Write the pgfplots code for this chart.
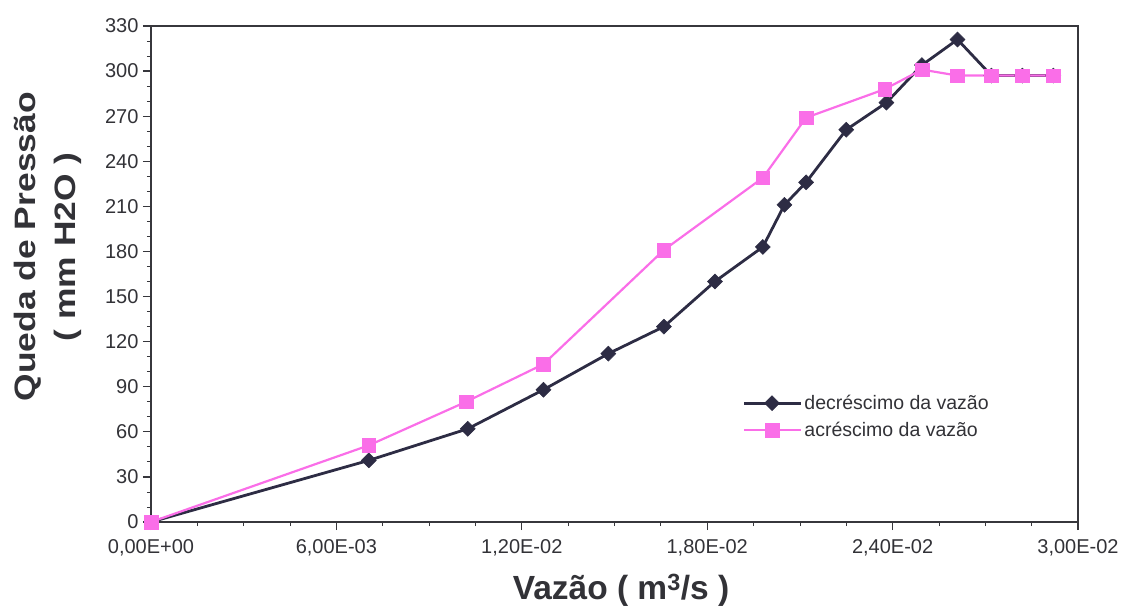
\documentclass[border=0pt]{standalone}
\usepackage{pgfplots}
\pgfplotsset{compat=1.18}
\usepackage{fontspec}
\setmainfont{Liberation Sans}
\newfontfamily\ylfont[FakeStretch=1.2]{Liberation Sans}
\definecolor{darkser}{RGB}{45,44,68}
\definecolor{pinkser}{RGB}{250,110,232}
\definecolor{axgray}{RGB}{55,55,60}
\definecolor{txt}{RGB}{50,50,55}
\begin{document}
\begin{tikzpicture}
\path[use as bounding box] (-151pt,-88pt) rectangle (972pt,522pt);
\begin{axis}[
  scale only axis,
  width=927pt, height=496pt,
  xmin=0, xmax=30, ymin=0, ymax=330,
  xtick={0,6,12,18,24,30},
  xticklabels={{0,00E+00},{6,00E-03},{1,20E-02},{1,80E-02},{2,40E-02},{3,00E-02}},
  ytick={0,30,...,330},
  minor x tick num=3,
  minor y tick num=2,
  tick pos=left,
  tick align=outside,
  major tick length=8pt,
  minor tick length=4pt,
  every tick/.style={axgray, line width=1.2pt},
  minor tick style={line width=0.8pt},
  axis line style={axgray, line width=1.8pt},
  /pgf/number format/assume math mode=true,
  tick label style={font=\fontsize{20}{22}\selectfont, text=txt},
  yticklabel style={xshift=-1pt},
  xticklabel style={yshift=-6pt},
  xlabel={Vazão ( m\textsuperscript{3}/s )},
  xlabel style={at={(rel axis cs:0.507,0)}, anchor=center, yshift=-68pt, font=\fontsize{33.5}{36}\selectfont\bfseries, text=txt},
  ylabel={Queda de Pressão\\( mm H2O )},
  ylabel style={at={(rel axis cs:-0.111,0.555)}, anchor=center, align=center, font=\ylfont\fontsize{29.5}{40}\selectfont\bfseries, text=txt},
  legend style={draw=none, fill=none, at={(rel axis cs:0.638,0.26)}, anchor=north west, font=\fontsize{19.5}{22}\selectfont, text=txt, row sep=7pt, inner sep=0pt},
  legend cell align=left,
  legend image code/.code={\draw[#1, mark repeat=2, mark phase=2] plot coordinates {(0pt,0pt) (28pt,0pt) (57pt,0pt)};},
]
\addplot[color=darkser, line width=2.8pt, mark=square*, mark size=5.3pt, mark options={rotate=45, fill=darkser, draw=darkser, line width=0.5pt}] coordinates {
(0,0) (7.05,41) (10.25,62) (12.7,88) (14.8,112) (16.6,130) (18.25,160) (19.8,183) (20.5,211) (21.2,226) (22.5,261) (23.8,279) (24.95,304) (26.1,321) (27.2,297) (28.2,297) (29.2,297)
};
\addplot[color=pinkser, line width=2.2pt, mark=square*, mark size=6.8pt, mark options={fill=pinkser, draw=pinkser, line width=0.5pt}] coordinates {
(0,0) (7.05,51) (10.2,80) (12.7,105) (16.6,181) (19.8,229) (21.2,269) (23.75,288) (24.95,301) (26.1,297) (27.2,297) (28.2,297) (29.2,297)
};
\legend{decréscimo da vazão, acréscimo da vazão}
\end{axis}
\end{tikzpicture}
\end{document}
